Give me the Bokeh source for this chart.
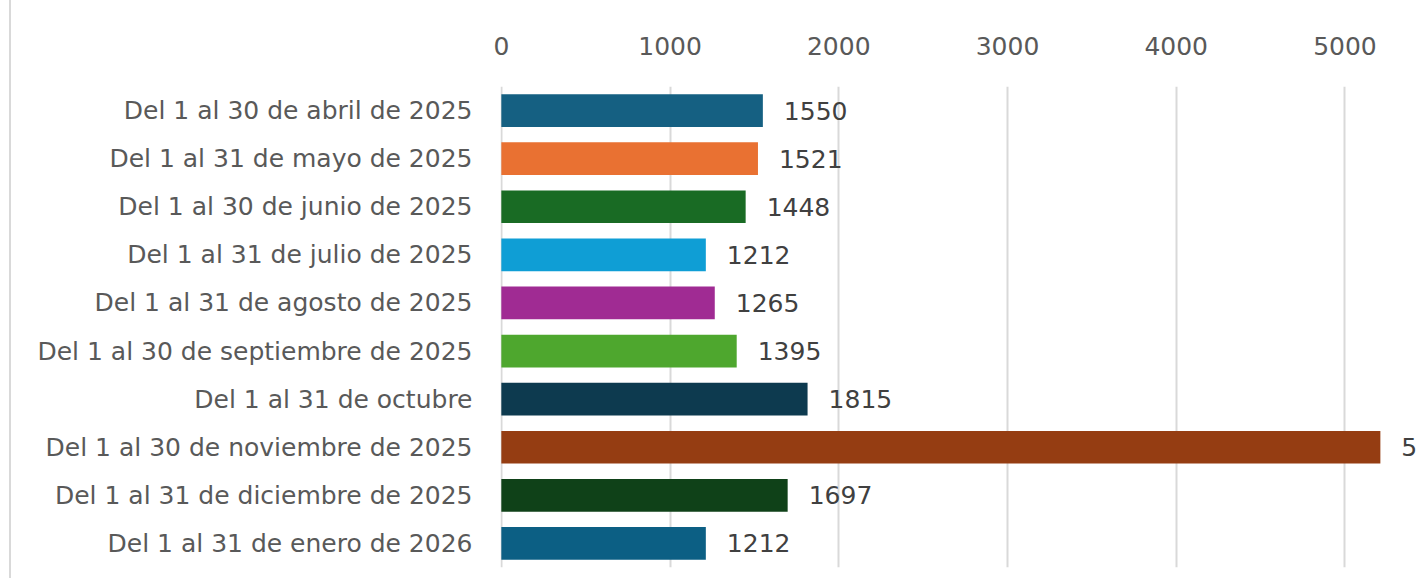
from bokeh.plotting import figure
from bokeh.models import ColumnDataSource, FactorRange, Range1d, FixedTicker, Div
from bokeh.layouts import row
from bokeh.core.properties import value
from bokeh.embed import file_html
from bokeh.resources import INLINE

periods = [
    "Del 1 al 30 de abril de 2025",
    "Del 1 al 31 de mayo de 2025",
    "Del 1 al 30 de junio de 2025",
    "Del 1 al 31 de julio de 2025",
    "Del 1 al 31 de agosto de 2025",
    "Del 1 al 30 de septiembre de 2025",
    "Del 1 al 31 de octubre",
    "Del 1 al 30 de noviembre de 2025",
    "Del 1 al 31 de diciembre de 2025",
    "Del 1 al 31 de enero de 2026",
]
counts = [1550, 1521, 1448, 1212, 1265, 1395, 1815, 5210, 1697, 1212]
colors = ["#156082", "#E97132", "#196B24", "#0F9ED5", "#A02B93",
          "#4EA72E", "#0D3A4F", "#953D12", "#0F4118", "#0C5F84"]
x_ticks = [0, 1000, 2000, 3000, 4000, 5000]

FONT = "DejaVu Sans"
FS = "25px"

src = ColumnDataSource(dict(period=periods, count=counts, color=colors,
                            label=[str(c) for c in counts]))

p = figure(width=1407, height=578, output_backend="svg", toolbar_location=None,
           y_range=FactorRange(*reversed(periods)), x_range=Range1d(-5, 5436),
           x_axis_location="above",
           min_border_left=489, min_border_right=0, min_border_top=86, min_border_bottom=11)
p.outline_line_color = None
p.background_fill_color = "white"
p.border_fill_color = "white"

p.hbar(y="period", right="count", left=0, height=0.68, color="color", source=src,
       line_color=None)
p.text(x="count", y="period", text="label", source=src, x_offset=21,
       text_baseline="middle", text_align="left", text_color="#404040",
       text_font=value(FONT), text_font_size=FS)

p.xaxis.ticker = FixedTicker(ticks=x_ticks)
p.xaxis.axis_line_color = None
p.xaxis.major_tick_line_color = None
p.xaxis.minor_tick_line_color = None
p.xaxis.major_label_standoff = 26
p.xaxis.major_label_text_font = FONT
p.xaxis.major_label_text_font_size = FS
p.xaxis.major_label_text_color = "#595959"

p.yaxis.axis_line_color = None
p.yaxis.major_tick_line_color = None
p.yaxis.minor_tick_line_color = None
p.yaxis.major_label_standoff = 22
p.yaxis.major_label_text_font = FONT
p.yaxis.major_label_text_font_size = FS
p.yaxis.major_label_text_color = "#595959"

p.xgrid.grid_line_color = "#d9d9d9"
p.xgrid.grid_line_width = 2
p.ygrid.grid_line_color = None

edge = Div(text="", width=11, height=578, margin=0,
           styles={"border-right": "2px solid #d9d9d9", "box-sizing": "border-box",
                   "background": "white"})

layout = row(edge, p, spacing=0)
open("out.html", "w").write(file_html(layout, INLINE))
